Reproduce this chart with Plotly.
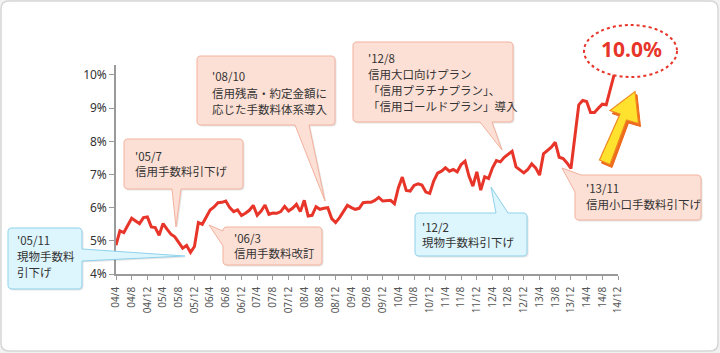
import plotly.graph_objects as go

# ---- data (monthly, starting 2004/4) ----
rate = [
    4.87, 5.30, 5.25, 5.45, 5.68, 5.60, 5.52, 5.70, 5.72, 5.42,   # 04/4 - 05/1
    5.40, 5.17, 5.52, 5.35, 5.20, 5.12, 4.95, 4.78, 4.86, 4.65,   # 05/2 - 05/11
    4.83, 5.55, 5.50, 5.72, 5.93, 6.02, 6.15, 6.16, 6.20, 6.00,   # 05/12 - 06/9
    5.88, 5.93, 5.76, 5.83, 5.92, 6.07, 5.77, 5.90, 6.08, 5.80,   # 06/10 - 07/7
    5.84, 5.83, 5.88, 6.04, 5.90, 5.98, 6.10, 5.88, 6.22, 5.75,   # 07/8 - 08/5
    5.77, 6.03, 5.95, 5.98, 6.00, 5.67, 5.55, 5.70, 5.90, 6.07,   # 08/6 - 09/3
    6.00, 5.95, 5.98, 6.15, 6.16, 6.16, 6.22, 6.31, 6.20, 6.20,   # 09/4 - 10/1
    6.22, 6.12, 6.60, 6.92, 6.52, 6.50, 6.67, 6.72, 6.68, 6.47,   # 10/2 - 10/11
    6.43, 6.80, 7.04, 7.10, 7.20, 7.10, 7.15, 7.08, 7.30, 7.40,   # 10/12 - 11/9
    6.95, 6.65, 7.08, 6.53, 6.93, 6.88, 7.20, 7.42, 7.38, 7.52,   # 11/10 - 12/7
    7.62, 7.70, 7.23, 7.15, 7.05, 7.15, 7.32, 7.20, 6.98, 7.62,   # 12/8 - 13/5
    7.72, 7.82, 7.97, 7.52, 7.48, 7.35, 7.18, 8.20, 9.10, 9.23,   # 13/6 - 14/3
    9.20, 8.87, 8.87, 9.00, 9.12, 9.10, 9.52, 10.00               # 14/4 - 14/11
]
tick_labels = ["04/4", "04/8", "04/12", "05/4", "05/8", "05/12", "06/4", "06/8", "06/12",
               "07/4", "07/8", "07/12", "08/4", "08/8", "08/12", "09/4", "09/8", "09/12",
               "10/4", "10/8", "10/12", "11/4", "11/8", "11/12", "12/4", "12/8", "12/12",
               "13/4", "13/8", "13/12", "14/4", "14/8", "14/12"]
y_ticks = [4, 5, 6, 7, 8, 9, 10]
y_tick_labels = [f"{v}%" for v in y_ticks]
months = list(range(len(rate)))
tick_months = [4 * i for i in range(len(tick_labels))]

# ---- layout geometry (pixels) ----
WIDTH, HEIGHT = 720, 353
L, T, R, B = 116, 65, 102, 79
PW, PH = WIDTH - L - R, HEIGHT - T - B

def px(x):
    return (x - L) / PW

def py(y):
    return (T + PH - y) / PH

def P(x, y):
    return f"{px(x):.5f},{py(y):.5f}"

def callout_path(x0, y0, x1, y1, side, a, b, tip, r=4, dx=0, dy=0):
    x0 += dx; x1 += dx; y0 += dy; y1 += dy
    if side in ("top", "bottom", "corner"):
        a2 = a + dx
    else:
        a2 = a + dy
    if side in ("left", "right", "corner"):
        b2 = b + dy
    else:
        b2 = b + dx
    tx, ty = tip[0] + dx, tip[1] + dy
    if side == "corner":
        s = f"M{P(a2, y0)}"
    else:
        s = f"M{P(x0 + r, y0)}"
        if side == "top":
            s += f" L{P(a2, y0)} L{P(tx, ty)} L{P(b2, y0)}"
    s += f" L{P(x1 - r, y0)} Q{P(x1, y0)} {P(x1, y0 + r)}"
    if side == "right":
        s += f" L{P(x1, a2)} L{P(tx, ty)} L{P(x1, b2)}"
    s += f" L{P(x1, y1 - r)} Q{P(x1, y1)} {P(x1 - r, y1)}"
    if side == "bottom":
        s += f" L{P(b2, y1)} L{P(tx, ty)} L{P(a2, y1)}"
    s += f" L{P(x0 + r, y1)} Q{P(x0, y1)} {P(x0, y1 - r)}"
    if side == "left":
        s += f" L{P(x0, b2)} L{P(tx, ty)} L{P(x0, a2)}"
    if side == "corner":
        s += f" L{P(x0, b2)} L{P(tx, ty)} L{P(a2, y0)}"
    else:
        s += f" L{P(x0, y0 + r)} Q{P(x0, y0)} {P(x0 + r, y0)}"
    return s + " Z"

PINK = ("#fde0d5", "#f3b19d")
BLUE = ("#ddf5fc", "#8fd2ec")

callouts = [
    dict(box=(8, 228, 82, 289), side="right", a=249, b=261, tip=(185, 256), col=BLUE,
         tx=15, lines=[("'05/11", 240), ("現物手数料", 256), ("引下げ", 272)]),
    dict(box=(124, 139, 243, 189), side="bottom", a=172, b=181, tip=(176, 227), col=PINK,
         tx=133, lines=[("'05/7", 156), ("信用手数料引下げ", 171)]),
    dict(box=(223, 227, 322, 265), side="left", a=231, b=246, tip=(209, 225), col=PINK,
         tx=232, lines=[("'06/3", 238), ("信用手数料改訂", 253)]),
    dict(box=(197, 56, 335, 125), side="bottom", a=295, b=309, tip=(325, 201), col=PINK,
         tx=210, lines=[("'08/10", 76), ("信用残高・約定金額に", 93), ("応じた手数料体系導入", 109)]),
    dict(box=(353, 42, 513, 122), side="bottom", a=480, b=492, tip=(502, 150), col=PINK,
         tx=366, lines=[("'12/8", 58), ("信用大口向けプラン", 74), ("「信用プラチナプラン」、", 90),
                        ("「信用ゴールドプラン」導入", 106)]),
    dict(box=(415, 213, 527, 256), side="top", a=496, b=508, tip=(491, 187), col=BLUE,
         tx=420, lines=[("'12/2", 227), ("現物手数料引下げ", 242)]),
    dict(box=(575, 175, 701, 220), side="corner", a=581, b=192, tip=(562, 168), col=PINK,
         tx=584, lines=[("'13/11", 188), ("信用小口手数料引下げ", 204)]),
]

FONT = "Noto Sans CJK JP"

fig = go.Figure()
fig.add_trace(go.Scatter(x=months, y=rate, mode="lines",
                         line=dict(color="#e8352a", width=3), hoverinfo="skip",
                         showlegend=False))

shapes = []
annotations = []

# background frame
shapes.append(dict(type="path", xref="paper", yref="paper", layer="below",
                   path=callout_path(1, 1, 718, 351, "none", 0, 0, (0, 0), r=8),
                   fillcolor="#ffffff", line=dict(color="#d6d6d6", width=1.5)))

for c in callouts:
    x0, y0, x1, y1 = c["box"]
    shapes.append(dict(type="path", xref="paper", yref="paper", layer="above",
                       path=callout_path(x0, y0, x1, y1, c["side"], c["a"], c["b"], c["tip"], dx=1.5, dy=1.5),
                       fillcolor="rgba(0,0,0,0.10)", line=dict(width=0)))
    shapes.append(dict(type="path", xref="paper", yref="paper", layer="above",
                       path=callout_path(x0, y0, x1, y1, c["side"], c["a"], c["b"], c["tip"]),
                       fillcolor=c["col"][0], line=dict(color=c["col"][1], width=1)))
    for text, yy in c["lines"]:
        annotations.append(dict(x=px(c["tx"]), y=py(yy), xref="paper", yref="paper",
                                text=text, showarrow=False, xanchor="left", yanchor="middle",
                                font=dict(family=FONT, size=11.5, color="#333333")))

# yellow arrow (shadow + body)
arrow_pts = [(599.5, 160), (610, 164.5), (626.5, 120), (638.5, 123.5), (635, 91.5), (610, 110.5), (620, 114)]
def poly(pts, dx=0, dy=0):
    return "M" + " L".join(P(x + dx, y + dy) for x, y in pts) + " Z"
shapes.append(dict(type="path", xref="paper", yref="paper", layer="above",
                   path=poly(arrow_pts, 2, 3), fillcolor="#ee6a1c", line=dict(color="#ee6a1c", width=1)))
shapes.append(dict(type="path", xref="paper", yref="paper", layer="above",
                   path=poly(arrow_pts), fillcolor="#ffe22e", line=dict(color="#f08a20", width=1.2)))

# dotted ellipse with 10.0%
shapes.append(dict(type="circle", xref="paper", yref="paper", layer="above",
                   x0=px(584), x1=px(677), y0=py(77), y1=py(25),
                   fillcolor="rgba(255,255,255,0)", line=dict(color="#e8352a", width=2, dash="dot")))
annotations.append(dict(x=px(631), y=py(49), xref="paper", yref="paper",
                        text=f"<b>{rate[-1]:.1f}%</b>", showarrow=False,
                        xanchor="center", yanchor="middle",
                        font=dict(family="Noto Sans", size=21, color="#e8352a")))

fig.update_layout(
    width=WIDTH, height=HEIGHT, autosize=False,
    margin=dict(l=L, r=R, t=T, b=B, pad=0),
    paper_bgcolor="#f2f2f2", plot_bgcolor="rgba(0,0,0,0)",
    shapes=shapes, annotations=annotations,
    xaxis=dict(range=[0, 128], tickvals=tick_months, ticktext=tick_labels, tickangle=-90,
               ticks="outside", ticklen=4, tickcolor="#9a9a9a", tickwidth=1,
               ticklabelstandoff=3,
               showline=True, linecolor="#9a9a9a", linewidth=1.5,
               showgrid=False, zeroline=False,
               tickfont=dict(family="Noto Sans", size=10, color="#555555")),
    yaxis=dict(range=[4, 10.3], tickvals=y_ticks, ticktext=y_tick_labels,
               ticks="outside", ticklen=5, tickcolor="#9a9a9a", tickwidth=1,
               showline=True, linecolor="#9a9a9a", linewidth=1.5,
               showgrid=False, zeroline=False,
               tickfont=dict(family="Noto Sans", size=12, color="#333333")),
    font=dict(family=FONT),
)

fig.write_html("out.html")
